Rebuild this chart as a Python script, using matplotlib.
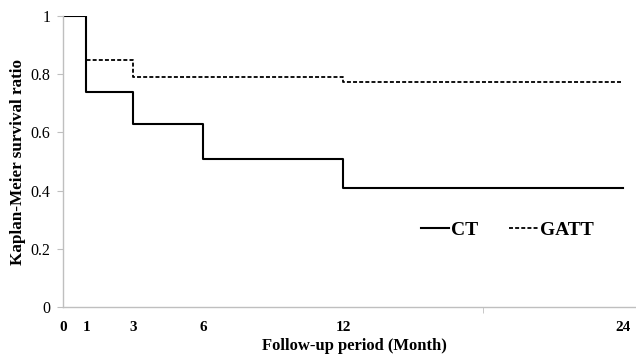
import matplotlib

matplotlib.use("Agg")
import matplotlib.pyplot as plt  # noqa: E402
from matplotlib.lines import Line2D  # noqa: E402

# Kaplan-Meier step values
CT_MONTHS = [0, 1, 3, 6, 12, 24]
CT_SURV = [1.0, 0.74, 0.63, 0.51, 0.41, 0.41]
GATT_MONTHS = [0, 1, 3, 12, 24]
GATT_SURV = [1.0, 0.85, 0.79, 0.775, 0.775]

X_LABELS = [0, 1, 3, 6, 12, 24]
X_GRID_TICKS = [0, 6, 12, 18, 24]
Y_TICKS = [0, 0.2, 0.4, 0.6, 0.8, 1]

plt.rcParams["font.family"] = ["Liberation Serif", "DejaVu Serif"]

fig = plt.figure(figsize=(6.36, 3.58), dpi=100)
ax = fig.add_axes([0.099, 0.1425, 0.901, 0.8125])

ax.step(CT_MONTHS, CT_SURV, where="post", color="black", lw=1.5, label="CT")
ax.step(GATT_MONTHS, GATT_SURV, where="post", color="black", lw=1.3,
        dashes=(2.2, 1.2), label="GATT")

ax.set_xlim(0, 24.56)
ax.set_ylim(0, 1)

for side in ("top", "right"):
    ax.spines[side].set_visible(False)
for side in ("left", "bottom"):
    ax.spines[side].set_color("#bfbfbf")
    ax.spines[side].set_linewidth(1.0)

ax.set_yticks(Y_TICKS)
ax.set_yticklabels(["0", "0.2", "0.4", "0.6", "0.8", "1"], fontsize=11.5)
ax.tick_params(axis="y", length=4, color="#bfbfbf", pad=5)

ax.set_xticks(X_LABELS)
ax.set_xticklabels([str(v) for v in X_LABELS], fontsize=11, fontweight="bold")
ax.tick_params(axis="x", which="major", length=0, pad=10)
ax.set_xticks(X_GRID_TICKS, minor=True)
ax.tick_params(axis="x", which="minor", length=4, color="#bfbfbf")

ax.set_xlabel("Follow-up period (Month)", fontsize=12, fontweight="bold")
ax.xaxis.set_label_coords(0.509, -0.108)
ax.set_ylabel("Kaplan-Meier survival ratio", fontsize=12.3, fontweight="bold")
ax.yaxis.set_label_coords(-0.064, 0.5)

handles = [
    Line2D([], [], color="black", lw=1.5),
    Line2D([], [], color="black", lw=1.3, dashes=(2.2, 1.2)),
]
ax.legend(handles, ["CT", "GATT"], ncol=2, frameon=False,
          prop={"size": 14, "weight": "bold"},
          loc="center", bbox_to_anchor=(0.775, 0.265),
          handlelength=1.45, handletextpad=0.12, columnspacing=1.6)

fig.savefig("out.png", dpi=100)
